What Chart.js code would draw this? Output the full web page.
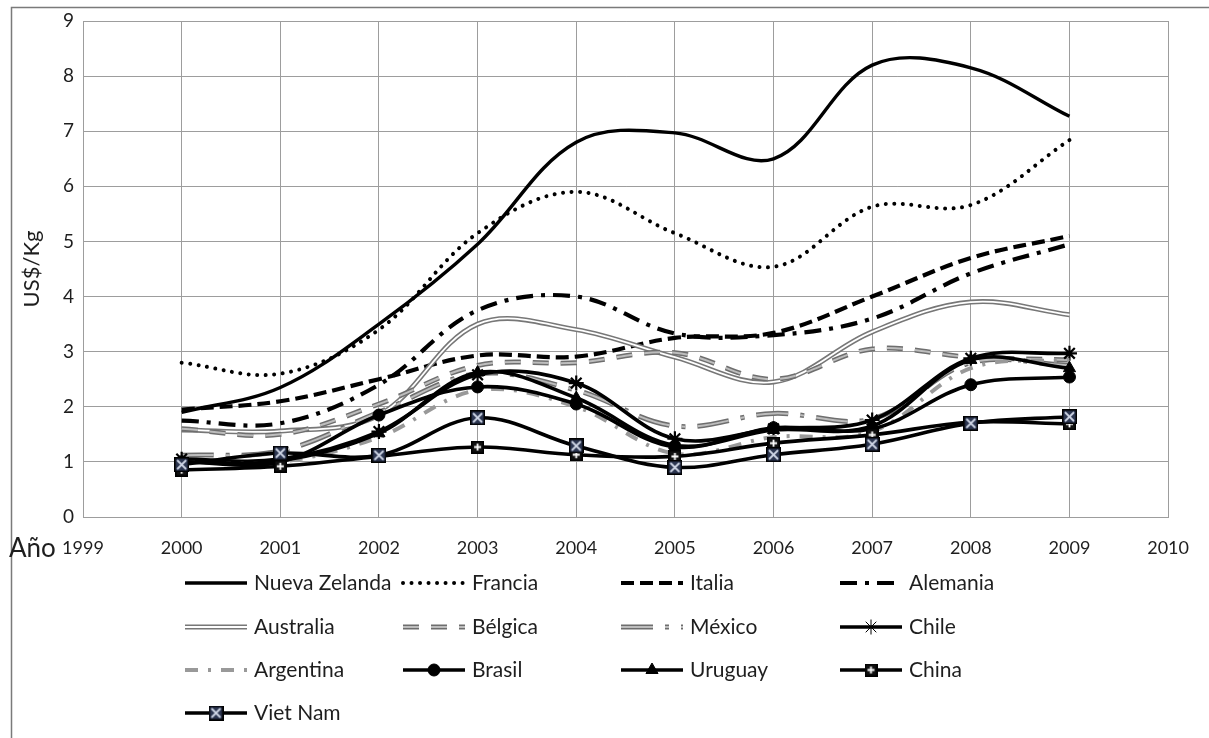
<!DOCTYPE html>
<html>
<head>
<meta charset="utf-8">
<script src="https://cdn.jsdelivr.net/npm/chart.js@4/dist/chart.umd.min.js"></script>
<style>
  html, body { margin: 0; padding: 0; background: #ffffff; }
  #wrap { width: 1209px; height: 738px; position: relative; }
</style>
</head>
<body>
<div id="wrap"><canvas id="c"></canvas></div>
<script>
// Export price per kilogram, by country and year
const years = [2000, 2001, 2002, 2003, 2004, 2005, 2006, 2007, 2008, 2009];
const axisYears = [1999, 2000, 2001, 2002, 2003, 2004, 2005, 2006, 2007, 2008, 2009, 2010];
const yTicks = [0, 1, 2, 3, 4, 5, 6, 7, 8, 9];
const yTitle = 'US$/Kg';
const xLead = 'Año';

const seriesNames = ['Nueva Zelanda', 'Francia', 'Italia', 'Alemania',
                     'Australia', 'Bélgica', 'México', 'Chile',
                     'Argentina', 'Brasil', 'Uruguay', 'China', 'Viet Nam'];

const nuevaZelanda = [1.90, 2.35, 3.50, 4.95, 6.80, 6.97, 6.50, 8.20, 8.15, 7.27];
const francia      = [2.80, 2.60, 3.40, 5.15, 5.90, 5.15, 4.54, 5.63, 5.66, 6.84];
const italia       = [1.95, 2.10, 2.50, 2.93, 2.91, 3.25, 3.34, 4.00, 4.70, 5.10];
const alemania     = [1.75, 1.70, 2.40, 3.75, 4.00, 3.33, 3.30, 3.60, 4.42, 4.95];
const australia    = [1.58, 1.56, 1.85, 3.50, 3.40, 2.90, 2.45, 3.36, 3.90, 3.67];
const belgica      = [1.60, 1.50, 2.05, 2.75, 2.80, 2.98, 2.50, 3.05, 2.90, 2.85];
const mexico       = [1.12, 1.20, 1.90, 2.60, 2.30, 1.65, 1.88, 1.78, 2.80, 2.75];
const chile        = [1.05, 1.05, 1.55, 2.58, 2.43, 1.42, 1.60, 1.76, 2.88, 2.97];
const argentina    = [1.00, 1.00, 1.45, 2.30, 2.00, 1.15, 1.45, 1.55, 2.70, 2.85];
const brasil       = [1.00, 1.00, 1.85, 2.36, 2.05, 1.27, 1.62, 1.60, 2.40, 2.54];
const uruguay      = [1.00, 1.02, 1.52, 2.62, 2.16, 1.30, 1.58, 1.65, 2.85, 2.70];
const china        = [0.85, 0.92, 1.10, 1.27, 1.13, 1.10, 1.34, 1.49, 1.72, 1.69];
const vietNam      = [0.95, 1.16, 1.12, 1.80, 1.29, 0.90, 1.13, 1.32, 1.70, 1.82];

const seriesValues = [nuevaZelanda, francia, italia, alemania, australia, belgica,
                      mexico, chile, argentina, brasil, uruguay, china, vietNam];

// Square markers with a cross drawn inside
function squareMark(size, fill, lineColor, kind) {
  const c = document.createElement('canvas');
  c.width = size; c.height = size;
  const g = c.getContext('2d');
  g.fillStyle = '#000';
  g.fillRect(0, 0, size, size);
  g.fillStyle = fill;
  g.fillRect(1.5, 1.5, size - 3, size - 3);
  g.strokeStyle = lineColor;
  g.lineWidth = 1.8;
  g.beginPath();
  const m = size / 2, a = 3, b = size - 3;
  if (kind === 'plus') {
    g.moveTo(m, a); g.lineTo(m, b);
    g.moveTo(a, m); g.lineTo(b, m);
  } else {
    g.moveTo(a, a); g.lineTo(b, b);
    g.moveTo(b, a); g.lineTo(a, b);
  }
  g.stroke();
  return c;
}
const plusMark = squareMark(13, '#111111', '#ffffff', 'plus');
const crossMark = squareMark(15, '#2b3550', '#cfd6e6', 'cross');

// Line styles per series (outline series get a lighter inner stroke)
const styles = [
  { color: '#000', width: 3.4 },
  { color: '#000', width: 4, dash: [0.01, 8.5], cap: 'round' },
  { color: '#000', width: 4.2, dash: [13, 6] },
  { color: '#000', width: 4.2, dash: [17, 8, 4, 8] },
  { color: '#777777', width: 5, inner: { color: '#ffffff', width: 1.8 } },
  { color: '#6e6e6e', width: 5, dash: [16, 12], inner: { color: '#bdbdbd', width: 2 } },
  { color: '#6e6e6e', width: 5, dash: [32, 12, 4, 12], inner: { color: '#bdbdbd', width: 2 } },
  { color: '#000', width: 3.6, point: 'star', radius: 7.5 },
  { color: '#999999', width: 4, dash: [13, 10, 3, 10] },
  { color: '#000', width: 3.6, point: 'circle', radius: 6 },
  { color: '#000', width: 3.6, point: 'triangle', radius: 7 },
  { color: '#000', width: 3.6, point: plusMark, radius: 7 },
  { color: '#000', width: 3.6, point: crossMark, radius: 8 }
];

const toPoints = vals => vals.map((v, i) => ({ x: years[i], y: v }));

const datasets = [];
seriesNames.forEach((name, k) => {
  const s = styles[k];
  datasets.push({
    label: name,
    data: toPoints(seriesValues[k]),
    borderColor: s.color,
    borderWidth: s.width,
    borderDash: s.dash || [],
    borderCapStyle: s.cap || 'butt',
    borderJoinStyle: 'round',
    pointStyle: s.point || 'circle',
    pointRadius: s.point ? s.radius : 0,
    pointBackgroundColor: '#000',
    pointBorderColor: '#000',
    pointBorderWidth: s.point === 'star' ? 2.2 : 1,
    tension: 0.36,
    order: 2 * (seriesNames.length - k) + 1,
    seriesIndex: k
  });
  if (s.inner) {
    datasets.push({
      label: name,
      overlayOf: k,
      data: toPoints(seriesValues[k]),
      borderColor: s.inner.color,
      borderWidth: s.inner.width,
      borderDash: s.dash || [],
      borderCapStyle: 'butt',
      pointRadius: 0,
      tension: 0.36,
      order: 2 * (seriesNames.length - k)
    });
  }
});

// Legend laid out as a fixed four-column grid under the plot
const legendGrid = { cols: [185, 403, 621, 840], rows: [583, 627, 670, 713], sample: 62, gap: 7 };

const gridLegend = {
  id: 'gridLegend',
  afterDraw(chart) {
    const ctx = chart.ctx;
    const all = chart.data.datasets;
    all.filter(d => d.overlayOf === undefined).forEach(ds => {
      const k = ds.seriesIndex;
      const x0 = legendGrid.cols[k % 4];
      const y = legendGrid.rows[Math.floor(k / 4)];
      const layers = [ds].concat(all.filter(d => d.overlayOf === k));
      layers.forEach(l => {
        ctx.save();
        ctx.strokeStyle = l.borderColor;
        ctx.lineWidth = l.borderWidth;
        ctx.setLineDash(l.borderDash || []);
        ctx.lineCap = l.borderCapStyle || 'butt';
        ctx.beginPath();
        ctx.moveTo(x0, y);
        ctx.lineTo(x0 + legendGrid.sample, y);
        ctx.stroke();
        ctx.restore();
      });
      if (ds.pointRadius > 0) {
        ctx.save();
        ctx.fillStyle = '#000';
        ctx.strokeStyle = '#000';
        Chart.helpers.drawPoint(ctx, {
          pointStyle: ds.pointStyle, radius: ds.pointRadius, rotation: 0,
          borderWidth: ds.pointBorderWidth
        }, x0 + legendGrid.sample / 2, y);
        ctx.restore();
      }
      ctx.save();
      ctx.fillStyle = '#1e1e1e';
      ctx.font = '21px Lato';
      ctx.textBaseline = 'middle';
      ctx.textAlign = 'left';
      ctx.fillText(ds.label, x0 + legendGrid.sample + legendGrid.gap, y);
      ctx.restore();
    });
  }
};

// Outer frame and the leading word of the year axis
const frameAndLead = {
  id: 'frameAndLead',
  afterDraw(chart) {
    const ctx = chart.ctx;
    ctx.save();
    ctx.strokeStyle = '#7a7a7a';
    ctx.lineWidth = 1.5;
    ctx.beginPath();
    ctx.moveTo(11.5, 738);
    ctx.lineTo(11.5, 7.5);
    ctx.lineTo(1209, 7.5);
    ctx.stroke();
    ctx.fillStyle = '#1e1e1e';
    ctx.font = '26px Lato';
    ctx.textBaseline = 'middle';
    ctx.textAlign = 'left';
    ctx.fillText(xLead, 9, 549);
    ctx.restore();
  }
};

const gridColor = '#9d9d9d';

new Chart(document.getElementById('c'), {
  type: 'line',
  data: { datasets },
  options: {
    responsive: true,
    maintainAspectRatio: false,
    animation: false,
    layout: { padding: { left: 0, right: 36, top: 21, bottom: 0 } },
    plugins: { legend: { display: false }, tooltip: { enabled: false } },
    scales: {
      x: {
        type: 'linear',
        min: axisYears[0],
        max: axisYears[axisYears.length - 1],
        afterBuildTicks: s => { s.ticks = axisYears.map(v => ({ value: v })); },
        afterFit: s => { s.height = 221; },
        ticks: {
          padding: 20,
          color: '#1e1e1e',
          font: { family: 'Lato', size: 18 },
          callback: v => String(v),
          maxRotation: 0,
          autoSkip: false
        },
        grid: { color: gridColor, lineWidth: 1, drawTicks: false },
        border: { color: gridColor, width: 1 }
      },
      y: {
        min: yTicks[0],
        max: yTicks[yTicks.length - 1],
        afterBuildTicks: s => { s.ticks = yTicks.map(v => ({ value: v })); },
        afterFit: s => { s.width = 83; },
        ticks: {
          padding: 9,
          color: '#1e1e1e',
          font: { family: 'Lato', size: 19 },
          callback: v => String(v)
        },
        grid: { color: gridColor, lineWidth: 1, drawTicks: false },
        border: { color: gridColor, width: 1 },
        title: {
          display: true,
          text: yTitle,
          color: '#1e1e1e',
          font: { family: 'Lato', size: 22 },
          padding: { top: 19, bottom: 0 }
        }
      }
    }
  },
  plugins: [gridLegend, frameAndLead]
});
</script>
</body>
</html>
